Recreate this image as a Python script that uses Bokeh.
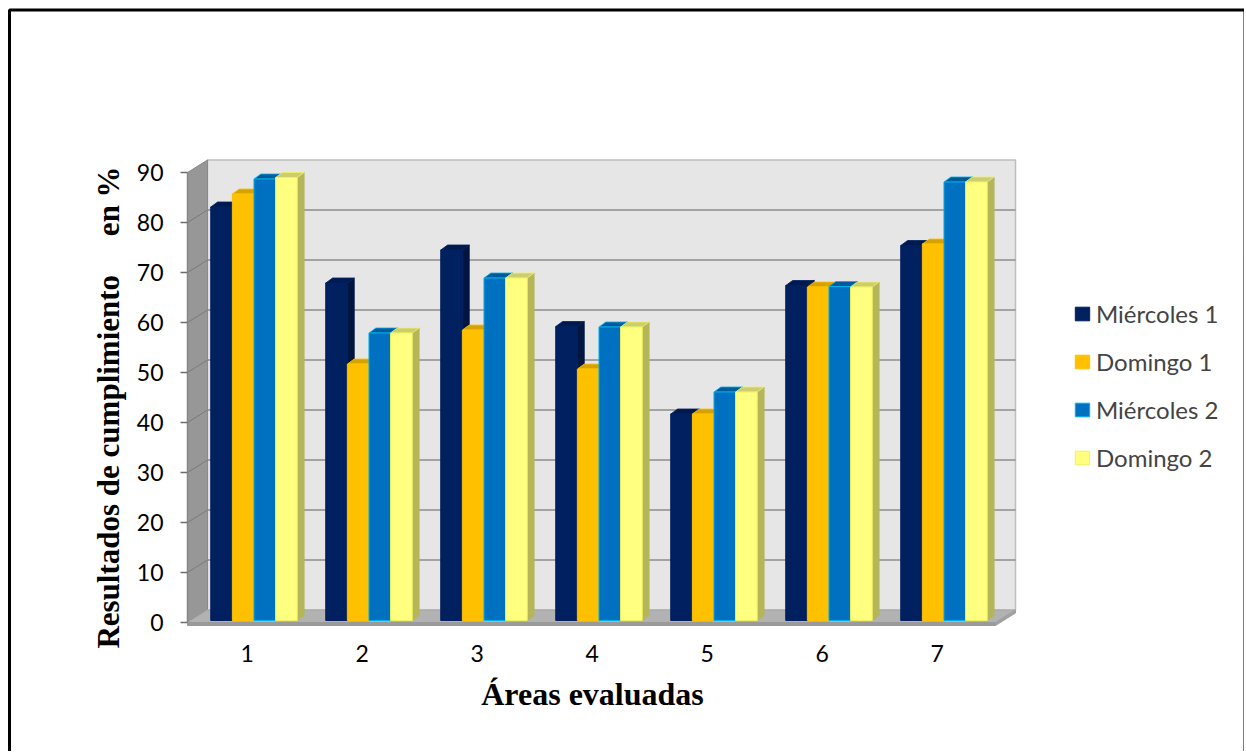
import math
from bokeh.plotting import figure
from bokeh.models import (Range1d, LinearAxis, FixedTicker, Legend, LegendItem,
                          ColumnDataSource)
from bokeh.core.properties import value
from bokeh.embed import file_html
from bokeh.resources import INLINE

# ---------------- data ----------------
categories = [1, 2, 3, 4, 5, 6, 7]
series_names = ["Miércoles 1", "Domingo 1", "Miércoles 2", "Domingo 2"]
miercoles_1 = [82.7, 67.5, 74.1, 58.8, 41.3, 67.0, 75.0]
domingo_1 = [85.3, 51.3, 58.1, 50.3, 41.3, 66.7, 75.3]
miercoles_2 = [88.3, 57.5, 68.5, 58.7, 45.7, 66.8, 87.7]
domingo_2 = [88.6, 57.5, 68.5, 58.7, 45.7, 66.7, 87.7]
y_ticks = [0, 10, 20, 30, 40, 50, 60, 70, 80, 90]
y_title = "Resultados de cumplimiento\u00a0\u00a0\u00a0\u00a0 en %"
x_title = "Áreas evaluadas"

series_values = [miercoles_1, domingo_1, miercoles_2, domingo_2]

# ---------------- canvas / scale ----------------
W, H = 1244, 751
PX_X, PX_Y = 115.0, 5.0          # pixels per data unit
XS = 1 - 246.7 / PX_X            # data x at canvas left
YT = 622 / PX_Y                  # data y at canvas top


def xd(px):
    return XS + px / PX_X


def yd(py):
    return YT - py / PX_Y


# ---------------- style / 3D geometry ----------------
X0 = xd(187)                     # front-left edge of the plot box
WALL_DX, WALL_DY = 20 / PX_X, 2.5
X1 = xd(1015)                    # back-right edge of the wall
Y0 = -0.6                        # bottom of the floor slab
BASE = 0.4                       # bar base level
BAR_W, BAR_SHIFT = 0.188, 0.059
BAR_DX, BAR_DY = 0.06, 1.0       # bar depth
fills = ["#002060", "#FFC000", "#0070C0", "#FFFF80"]
edges = ["#002060", "#FFC000", "#00B0F0", "#F0F060"]
sides = ["#001540", "#BF9000", "#00548F", "#B5B55A"]
tops = ["#001A50", "#D6A200", "#005A99", "#CCCC70"]

p = figure(width=W, height=H, x_range=Range1d(XS, xd(W)), y_range=Range1d(yd(H), YT),
           output_backend="svg", toolbar_location=None,
           x_axis_location=None, y_axis_location=None, min_border=0)
p.outline_line_color = None
p.background_fill_color = "white"
p.border_fill_color = "white"
p.grid.visible = False

# outer frame of the chart object (left, top, right edges)
p.multi_line(xs=[[xd(9), xd(9), xd(1244.5), xd(1244.5)]],
             ys=[[yd(H + 5), yd(9.5), yd(9.5), yd(H + 5)]],
             line_color="black", line_width=3)

ymax = y_ticks[-1]
bx0, bx1 = X0 + WALL_DX, X1
front_right = X1 - WALL_DX

# back wall
p.patch(x=[bx0, bx1, bx1, bx0], y=[WALL_DY, WALL_DY, ymax + WALL_DY, ymax + WALL_DY],
        fill_color="#E6E6E6", line_color="#BDBDBD", line_width=1.5)
# side wall
p.patch(x=[X0, bx0, bx0, X0], y=[0, WALL_DY, ymax + WALL_DY, ymax],
        fill_color="#979797", line_color="#8A8A8A", line_width=1)
# floor
p.patch(x=[X0, front_right, bx1, bx0], y=[0, 0, WALL_DY, WALL_DY],
        fill_color="#B2B2B2", line_color="#A6A6A6", line_width=1)
p.patch(x=[X0, front_right, front_right, X0], y=[Y0, Y0, 0, 0],
        fill_color="#9A9A9A", line_color="#9A9A9A", line_width=1)
p.patch(x=[front_right, bx1, bx1, front_right], y=[Y0, WALL_DY - 0.6, WALL_DY, 0],
        fill_color="#A0A0A0", line_color="#A0A0A0", line_width=1)

grid_v = [v for v in y_ticks if 0 < v < ymax]
p.segment(x0=[bx0] * len(grid_v), y0=[v + WALL_DY for v in grid_v],
          x1=[bx1] * len(grid_v), y1=[v + WALL_DY for v in grid_v],
          line_color="#8C8C8C", line_width=1.6)
p.segment(x0=[X0] * len(grid_v), y0=grid_v, x1=[bx0] * len(grid_v),
          y1=[v + WALL_DY for v in grid_v], line_color="#7A7A7A", line_width=1)

# bars: sides, tops, fronts
front_rs = []
offs = [(j - 1.5) * BAR_W for j in range(4)]
for j, vals in enumerate(series_values):
    cx = [c + BAR_SHIFT + offs[j] for c in categories]
    xr = [c + BAR_W / 2 for c in cx]
    tp = [BASE + v for v in vals]
    sx = [[r, r + BAR_DX, r + BAR_DX, r] for r in xr]
    sy = [[BASE, BASE + BAR_DY, t + BAR_DY, t] for t in tp]
    p.patches(xs=sx, ys=sy, fill_color=sides[j], line_color=sides[j], line_width=0.8)
for j, vals in enumerate(series_values):
    cx = [c + BAR_SHIFT + offs[j] for c in categories]
    xl = [c - BAR_W / 2 for c in cx]
    xr = [c + BAR_W / 2 for c in cx]
    tp = [BASE + v for v in vals]
    tx = [[l, l + BAR_DX, r + BAR_DX, r] for l, r in zip(xl, xr)]
    ty = [[t, t + BAR_DY, t + BAR_DY, t] for t in tp]
    p.patches(xs=tx, ys=ty, fill_color=tops[j], line_color=edges[j], line_width=0.8)
for j, vals in enumerate(series_values):
    src = ColumnDataSource(dict(x=[c + BAR_SHIFT + offs[j] for c in categories],
                                top=[BASE + v for v in vals]))
    r = p.vbar(x="x", top="top", bottom=BASE, width=BAR_W, source=src,
               fill_color=fills[j], line_color=edges[j], line_width=1)
    front_rs.append(r)

# axes (drawn at fixed positions of the 3D box)
yaxis = LinearAxis(ticker=FixedTicker(ticks=y_ticks), bounds=(0, ymax), fixed_location=X0,
                   axis_line_color="#868686", axis_line_width=1.5,
                   major_tick_line_color="#6E6E6E", major_tick_line_width=1.5,
                   major_tick_out=7, major_tick_in=0, minor_tick_line_color=None,
                   major_label_text_font="Lato", major_label_text_font_size="23px",
                   major_label_text_color="black", major_label_standoff=17)
p.add_layout(yaxis, "left")

xaxis = LinearAxis(ticker=FixedTicker(ticks=categories), fixed_location=BASE,
                   axis_line_color=None, major_tick_line_color=None, minor_tick_line_color=None,
                   major_label_text_font="Lato", major_label_text_font_size="23px",
                   major_label_text_color="black", major_label_standoff=18)
p.add_layout(xaxis, "below")

# axis titles
p.text(x=[xd(108)], y=[yd(407)], text=[y_title], angle=math.pi / 2,
       text_font=value("Liberation Serif"), text_font_style="bold", text_font_size="31px",
       text_color="black", text_align="center", text_baseline="alphabetic")
p.text(x=[xd(592)], y=[yd(693)], text=[x_title],
       text_font=value("Liberation Serif"), text_font_style="bold", text_font_size="32px",
       text_color="black", text_align="center", text_baseline="alphabetic")

legend = Legend(items=[LegendItem(label=n, renderers=[r]) for n, r in zip(series_names, front_rs)],
                location=(1073, H - 471.5), glyph_width=18, glyph_height=17, label_standoff=5,
                label_text_font="Lato", label_text_font_size="24px", spacing=19,
                padding=0, margin=0, border_line_color=None, background_fill_alpha=0)
p.add_layout(legend, "center")

open("out.html", "w").write(file_html(p, INLINE))
